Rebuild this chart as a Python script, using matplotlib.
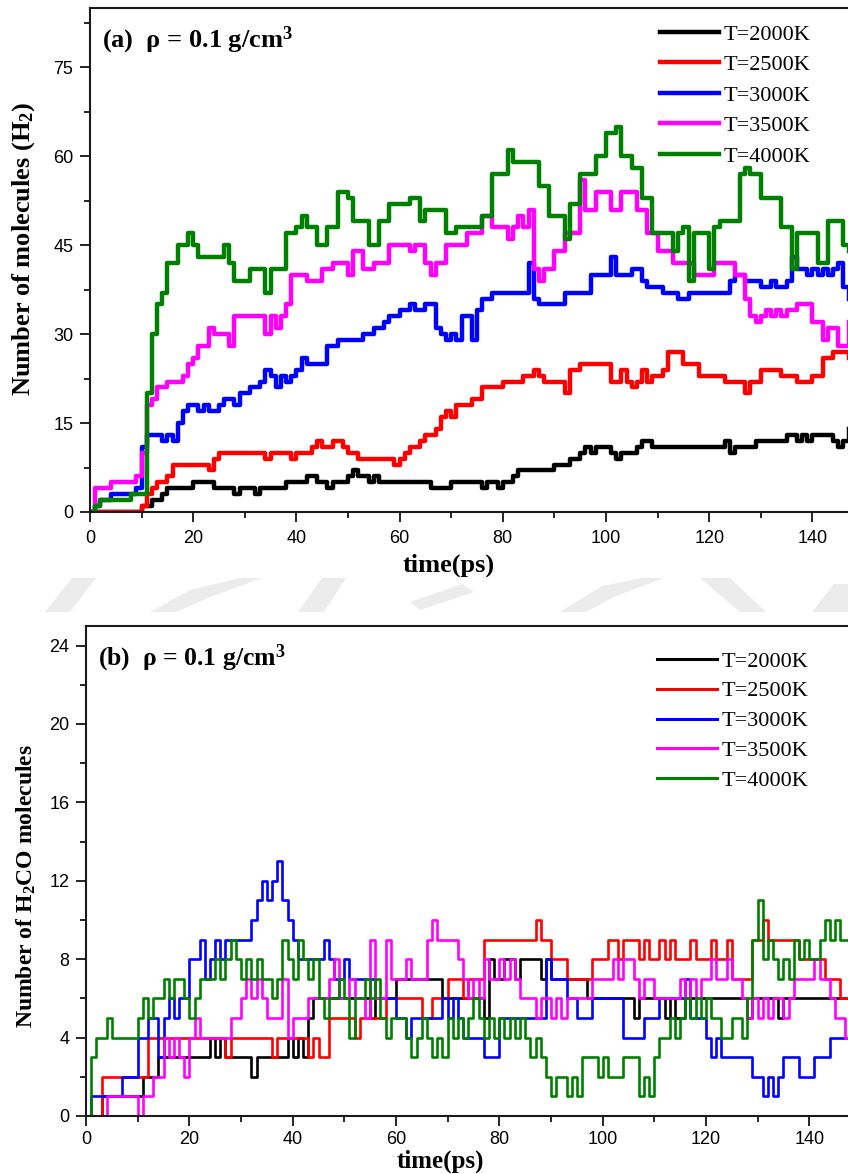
import numpy as np
import matplotlib
matplotlib.use("Agg")
import matplotlib.pyplot as plt
from matplotlib.ticker import MultipleLocator
from matplotlib.patches import Polygon

# number of H2 molecules, one value per ps (t = 0 .. 149)
h2_2000 = [0, 0, 0, 0, 0, 0, 0, 0, 0, 0,
           1, 1, 2, 2, 3, 4, 4, 4, 4, 4,
           5, 5, 5, 5, 4, 4, 4, 4, 3, 4,
           4, 4, 3, 4, 4, 4, 4, 4, 5, 5,
           5, 5, 6, 6, 5, 5, 4, 5, 5, 5,
           6, 7, 6, 6, 5, 6, 5, 5, 5, 5,
           5, 5, 5, 5, 5, 5, 4, 4, 4, 4,
           5, 5, 5, 5, 5, 5, 4, 5, 5, 4,
           5, 5, 6, 7, 7, 7, 7, 7, 7, 7,
           8, 8, 8, 9, 9, 10, 11, 10, 11, 11,
           11, 10, 9, 10, 10, 10, 11, 12, 12, 11,
           11, 11, 11, 11, 11, 11, 11, 11, 11, 11,
           11, 11, 11, 12, 10, 11, 11, 11, 11, 12,
           12, 12, 12, 12, 12, 13, 13, 12, 13, 12,
           13, 13, 13, 13, 12, 11, 12, 14, 14, 14]
h2_2500 = [0, 0, 0, 0, 0, 0, 0, 0, 0, 0,
           1, 3, 4, 5, 5, 6, 8, 8, 8, 8,
           8, 8, 8, 7, 9, 10, 10, 10, 10, 10,
           10, 10, 10, 10, 9, 10, 10, 10, 10, 9,
           10, 10, 10, 11, 12, 11, 11, 12, 12, 11,
           10, 10, 9, 9, 9, 9, 9, 9, 9, 8,
           9, 10, 11, 11, 12, 13, 13, 14, 16, 17,
           16, 18, 18, 18, 19, 19, 21, 21, 21, 21,
           22, 22, 22, 22, 23, 23, 24, 23, 22, 22,
           22, 22, 20, 24, 24, 25, 25, 25, 25, 25,
           25, 22, 22, 24, 22, 21, 22, 24, 22, 23,
           23, 24, 27, 27, 27, 25, 25, 25, 23, 23,
           23, 23, 23, 22, 22, 22, 22, 20, 22, 22,
           24, 24, 24, 24, 23, 23, 23, 22, 22, 22,
           23, 23, 26, 26, 27, 27, 27, 26, 26, 26]
h2_3000 = [0, 1, 2, 2, 3, 3, 3, 3, 3, 4,
           11, 13, 13, 13, 12, 13, 12, 15, 17, 18,
           18, 17, 18, 17, 17, 18, 19, 19, 18, 20,
           20, 21, 21, 22, 24, 23, 21, 23, 22, 23,
           24, 26, 25, 25, 25, 25, 28, 28, 29, 29,
           29, 29, 29, 30, 30, 31, 31, 32, 33, 33,
           34, 34, 35, 34, 34, 35, 35, 31, 30, 29,
           30, 29, 33, 33, 29, 34, 36, 36, 37, 37,
           37, 37, 37, 37, 37, 42, 36, 35, 35, 35,
           35, 35, 37, 37, 37, 37, 37, 40, 40, 40,
           40, 43, 40, 40, 40, 41, 41, 39, 38, 38,
           38, 37, 37, 37, 36, 36, 37, 37, 37, 37,
           37, 37, 37, 37, 39, 40, 40, 39, 39, 39,
           38, 38, 39, 38, 38, 39, 43, 41, 41, 40,
           41, 40, 41, 40, 41, 42, 38, 36, 36, 36]
h2_3500 = [0, 4, 4, 4, 5, 5, 5, 5, 5, 6,
           10, 18, 19, 21, 21, 22, 22, 22, 23, 25,
           26, 28, 28, 31, 30, 30, 30, 28, 33, 33,
           33, 33, 33, 33, 30, 33, 31, 33, 35, 40,
           40, 40, 39, 39, 39, 41, 41, 42, 42, 42,
           40, 44, 44, 41, 41, 42, 42, 42, 45, 45,
           45, 45, 44, 45, 45, 42, 40, 42, 42, 45,
           45, 45, 45, 47, 47, 47, 50, 50, 48, 48,
           48, 46, 48, 50, 48, 51, 41, 39, 41, 41,
           44, 44, 47, 47, 47, 56, 51, 51, 54, 54,
           54, 51, 51, 54, 54, 54, 51, 51, 47, 47,
           44, 44, 44, 42, 42, 42, 42, 40, 40, 40,
           40, 42, 42, 42, 42, 40, 40, 36, 33, 32,
           33, 34, 33, 34, 33, 34, 34, 35, 35, 35,
           32, 32, 29, 31, 31, 28, 28, 32, 33, 33]
h2_4000 = [0, 1, 2, 2, 2, 2, 2, 2, 3, 3,
           3, 20, 30, 35, 37, 42, 42, 45, 45, 47,
           45, 43, 43, 43, 43, 43, 45, 42, 39, 39,
           39, 41, 41, 41, 37, 41, 41, 41, 47, 47,
           48, 50, 48, 48, 45, 45, 48, 48, 54, 54,
           53, 49, 49, 49, 45, 45, 49, 49, 52, 52,
           52, 52, 53, 53, 49, 51, 51, 51, 51, 47,
           47, 48, 48, 48, 48, 48, 50, 50, 57, 57,
           57, 61, 59, 59, 59, 59, 59, 55, 55, 50,
           50, 50, 46, 52, 52, 57, 57, 57, 60, 60,
           64, 64, 65, 60, 60, 58, 58, 53, 53, 47,
           47, 47, 47, 44, 47, 48, 39, 47, 47, 47,
           41, 48, 49, 49, 49, 49, 57, 58, 57, 57,
           53, 53, 53, 53, 48, 48, 41, 47, 47, 47,
           47, 42, 42, 49, 49, 49, 45, 44, 44, 44]

# number of H2CO molecules, one value per ps
h2co_2000 = [0, 0, 0, 1, 1, 1, 1, 1, 1, 1,
             1, 2, 2, 2, 3, 3, 3, 3, 3, 3,
             3, 3, 3, 3, 4, 3, 4, 3, 3, 3,
             3, 3, 2, 3, 3, 3, 3, 3, 3, 4,
             3, 4, 3, 5, 6, 6, 6, 6, 6, 6,
             6, 6, 6, 6, 6, 5, 6, 6, 6, 6,
             7, 7, 7, 7, 7, 7, 7, 7, 7, 6,
             6, 6, 6, 6, 6, 6, 6, 5, 8, 7,
             7, 8, 8, 7, 8, 8, 8, 8, 7, 8,
             7, 7, 7, 7, 7, 7, 7, 6, 6, 6,
             6, 6, 6, 6, 6, 6, 5, 6, 6, 6,
             6, 6, 5, 6, 5, 5, 6, 6, 6, 6,
             6, 6, 6, 6, 6, 6, 6, 6, 5, 6,
             6, 6, 6, 6, 5, 6, 6, 6, 6, 6,
             6, 6, 6, 6, 6, 6, 6, 6, 6, 6]
h2co_2500 = [0, 0, 0, 2, 2, 2, 2, 2, 2, 2,
             2, 2, 4, 4, 4, 4, 4, 4, 4, 4,
             4, 4, 4, 4, 4, 4, 4, 3, 4, 4,
             4, 4, 4, 4, 4, 4, 3, 4, 4, 4,
             4, 4, 4, 3, 4, 3, 3, 5, 5, 5,
             5, 5, 4, 5, 5, 5, 5, 5, 6, 6,
             6, 6, 6, 6, 6, 5, 5, 6, 6, 6,
             7, 7, 7, 6, 7, 7, 7, 9, 9, 9,
             9, 9, 9, 9, 9, 9, 9, 10, 9, 9,
             8, 8, 8, 7, 7, 7, 7, 7, 8, 8,
             8, 9, 9, 8, 9, 9, 9, 8, 9, 8,
             8, 9, 8, 9, 8, 8, 8, 9, 8, 8,
             8, 9, 8, 8, 9, 7, 7, 7, 7, 9,
             9, 10, 9, 9, 9, 9, 9, 9, 8, 8,
             8, 8, 8, 7, 7, 7, 6, 6, 5, 5]
h2co_3000 = [0, 1, 1, 1, 1, 1, 1, 2, 2, 2,
             4, 4, 5, 5, 3, 5, 6, 5, 6, 6,
             8, 8, 9, 7, 8, 9, 8, 9, 9, 9,
             9, 9, 10, 11, 12, 11, 12, 13, 11, 10,
             9, 8, 8, 8, 8, 8, 9, 8, 7, 7,
             8, 7, 7, 7, 7, 7, 6, 6, 6, 6,
             5, 5, 4, 5, 5, 5, 5, 5, 5, 6,
             5, 6, 5, 4, 4, 4, 4, 3, 3, 3,
             5, 5, 5, 5, 5, 5, 5, 5, 5, 8,
             7, 7, 7, 6, 6, 5, 5, 5, 6, 6,
             6, 6, 6, 6, 4, 4, 4, 4, 5, 5,
             5, 6, 6, 6, 6, 6, 7, 5, 5, 5,
             4, 3, 4, 3, 3, 3, 3, 3, 3, 2,
             2, 1, 2, 1, 2, 3, 3, 3, 2, 2,
             2, 3, 3, 3, 4, 4, 4, 4, 4, 4]
h2co_3500 = [0, 0, 0, 0, 1, 1, 1, 1, 1, 1,
             0, 1, 1, 2, 2, 4, 3, 4, 3, 2,
             4, 5, 4, 4, 4, 4, 4, 4, 5, 5,
             6, 7, 6, 7, 6, 5, 5, 5, 7, 4,
             5, 5, 5, 6, 6, 6, 6, 7, 8, 6,
             6, 7, 6, 6, 5, 9, 6, 6, 9, 7,
             7, 7, 8, 7, 7, 7, 9, 10, 9, 9,
             9, 9, 8, 7, 6, 7, 6, 8, 7, 7,
             8, 7, 8, 7, 6, 6, 6, 5, 6, 6,
             5, 6, 5, 6, 6, 6, 6, 6, 7, 7,
             7, 7, 8, 7, 8, 8, 7, 6, 7, 7,
             6, 6, 6, 6, 6, 7, 6, 7, 6, 7,
             7, 8, 7, 7, 8, 7, 7, 6, 5, 6,
             5, 6, 5, 6, 6, 5, 6, 7, 7, 7,
             7, 8, 7, 7, 6, 5, 5, 4, 4, 4]
h2co_4000 = [0, 3, 4, 4, 5, 4, 4, 4, 4, 4,
             5, 6, 5, 6, 6, 7, 6, 7, 7, 6,
             5, 6, 7, 7, 7, 8, 7, 8, 9, 8,
             7, 8, 7, 8, 7, 7, 6, 7, 9, 8,
             7, 9, 8, 7, 8, 6, 5, 6, 6, 7,
             6, 4, 6, 6, 7, 6, 7, 5, 4, 5,
             5, 5, 4, 3, 4, 5, 4, 3, 4, 3,
             5, 4, 5, 4, 5, 6, 5, 4, 5, 4,
             5, 4, 5, 4, 5, 4, 3, 4, 3, 2,
             1, 2, 2, 1, 2, 1, 3, 3, 3, 2,
             3, 2, 2, 2, 3, 3, 3, 1, 2, 1,
             3, 4, 4, 5, 4, 5, 6, 5, 6, 5,
             6, 5, 5, 4, 4, 5, 5, 4, 6, 9,
             11, 8, 9, 8, 7, 8, 7, 9, 8, 9,
             8, 8, 9, 10, 9, 10, 9, 9, 10, 9]

temp_labels = ["T=2000K", "T=2500K", "T=3000K", "T=3500K", "T=4000K"]
line_colors = ["black", "red", "blue", "magenta", "green"]

plt.rcParams["font.family"] = "Liberation Sans"
plt.rcParams["mathtext.fontset"] = "custom"
plt.rcParams["mathtext.rm"] = "Liberation Serif:bold"
plt.rcParams["mathtext.bf"] = "Liberation Serif:bold"
plt.rcParams["mathtext.it"] = "Liberation Serif:italic:bold"

W, H = 848, 1174
SERIF = "Liberation Serif"


def px_rect(left, top, right, bottom):
    return [left / W, 1 - bottom / H, (right - left) / W, (bottom - top) / H]


def fig_xy(x, y):
    return (x / W, 1 - y / H)


def style_axes(ax, ymax, ymajor, xpad, ypad):
    ax.set_xlim(0, 150)
    ax.set_ylim(0, ymax)
    ax.xaxis.set_major_locator(MultipleLocator(20))
    ax.xaxis.set_minor_locator(MultipleLocator(10))
    ax.yaxis.set_major_locator(MultipleLocator(ymajor))
    ax.yaxis.set_minor_locator(MultipleLocator(ymajor / 2))
    ax.tick_params(which="major", direction="out", length=7, width=1.2,
                   labelsize=13, top=False, right=False)
    ax.tick_params(which="minor", direction="out", length=4, width=1.2,
                   top=False, right=False)
    ax.tick_params(axis="x", pad=xpad)
    ax.tick_params(axis="y", pad=ypad)
    for sp in ax.spines.values():
        sp.set_linewidth(1.5)
        sp.set_color("#1a1a1a")


fig = plt.figure(figsize=(W / 100, H / 100), dpi=100)

# faint watermark strokes showing in the gap between the two panels
wm_shapes = [
    [(45, 612), (72, 578), (96, 578), (70, 612)],
    [(150, 612), (190, 590), (240, 578), (262, 578), (208, 598), (176, 612)],
    [(298, 612), (322, 578), (346, 578), (324, 612)],
    [(410, 602), (462, 584), (474, 592), (420, 610)],
    [(560, 612), (602, 586), (642, 578), (664, 578), (616, 596), (586, 612)],
    [(700, 578), (730, 578), (766, 612), (740, 612)],
    [(812, 612), (834, 584), (848, 584), (848, 612)],
]
for pts in wm_shapes:
    fig.patches.append(Polygon([fig_xy(x, y) for x, y in pts], closed=True,
                               transform=fig.transFigure, facecolor="#ececec",
                               edgecolor="none", zorder=0))

ax1 = fig.add_axes(px_rect(90, 8, 864, 512))
ax2 = fig.add_axes(px_rect(86, 626, 861, 1116))

h2_series = [h2_2000, h2_2500, h2_3000, h2_3500, h2_4000]
h2co_series = [h2co_2000, h2co_2500, h2co_3000, h2co_3500, h2co_4000]

for vals, lab, col in zip(h2_series, temp_labels, line_colors):
    t = np.arange(len(vals))
    ax1.step(t, vals, where="post", color=col, lw=3.2, label=lab)

for vals, lab, col in zip(h2co_series, temp_labels, line_colors):
    t = np.arange(len(vals))
    ax2.step(t, vals, where="post", color=col, lw=1.9, label=lab)

style_axes(ax1, 85, 15, 6, 5)
style_axes(ax2, 25, 4, 3.5, 5)

# panel (a)
ax1.text(0.0155, 0.9226, "(a)  \u03c1 = 0.1 g/$\\mathrm{cm}^3$", transform=ax1.transAxes,
         fontfamily=SERIF, fontweight="bold", fontsize=19, va="baseline")
ax1.set_xlabel("time(ps)", fontfamily=SERIF, fontweight="bold", fontsize=19,
               va="baseline")
ax1.xaxis.set_label_coords(0.4628, -0.119)
ax1.set_ylabel("Number of molecules ($\\mathrm{H}_2$)", fontfamily=SERIF,
               fontweight="bold", fontsize=19, va="center", ha="center")
ax1.yaxis.set_label_coords(-0.0853, 0.522)
ax1.legend(loc="upper left", bbox_to_anchor=fig_xy(660, 24),
           bbox_transform=fig.transFigure, frameon=False, borderpad=0,
           borderaxespad=0, handlelength=2.65, handletextpad=0.22,
           labelspacing=0.45, prop={"family": SERIF, "size": 16})

# panel (b)
ax2.text(0.0155, 0.920, "(b)  \u03c1 = 0.1 g/$\\mathrm{cm}^3$", transform=ax2.transAxes,
         fontfamily=SERIF, fontweight="bold", fontsize=18.5, va="baseline")
ax2.set_xlabel("time(ps)", fontfamily=SERIF, fontweight="bold", fontsize=18,
               va="baseline")
ax2.xaxis.set_label_coords(0.4578, -0.106)
ax2.set_ylabel("Number of $\\mathrm{H}_2\\mathrm{CO}$ molecules", fontfamily=SERIF,
               fontweight="bold", fontsize=17, va="center", ha="center")
ax2.yaxis.set_label_coords(-0.0774, 0.469)
leg2 = ax2.legend(loc="upper left", bbox_to_anchor=fig_xy(657, 651),
                  bbox_transform=fig.transFigure, frameon=False, borderpad=0,
                  borderaxespad=0, handlelength=2.7, handletextpad=0.22,
                  labelspacing=0.42, prop={"family": SERIF, "size": 16})
for ln in leg2.get_lines():
    ln.set_linewidth(2.2)

fig.savefig("out.png", dpi=100)
